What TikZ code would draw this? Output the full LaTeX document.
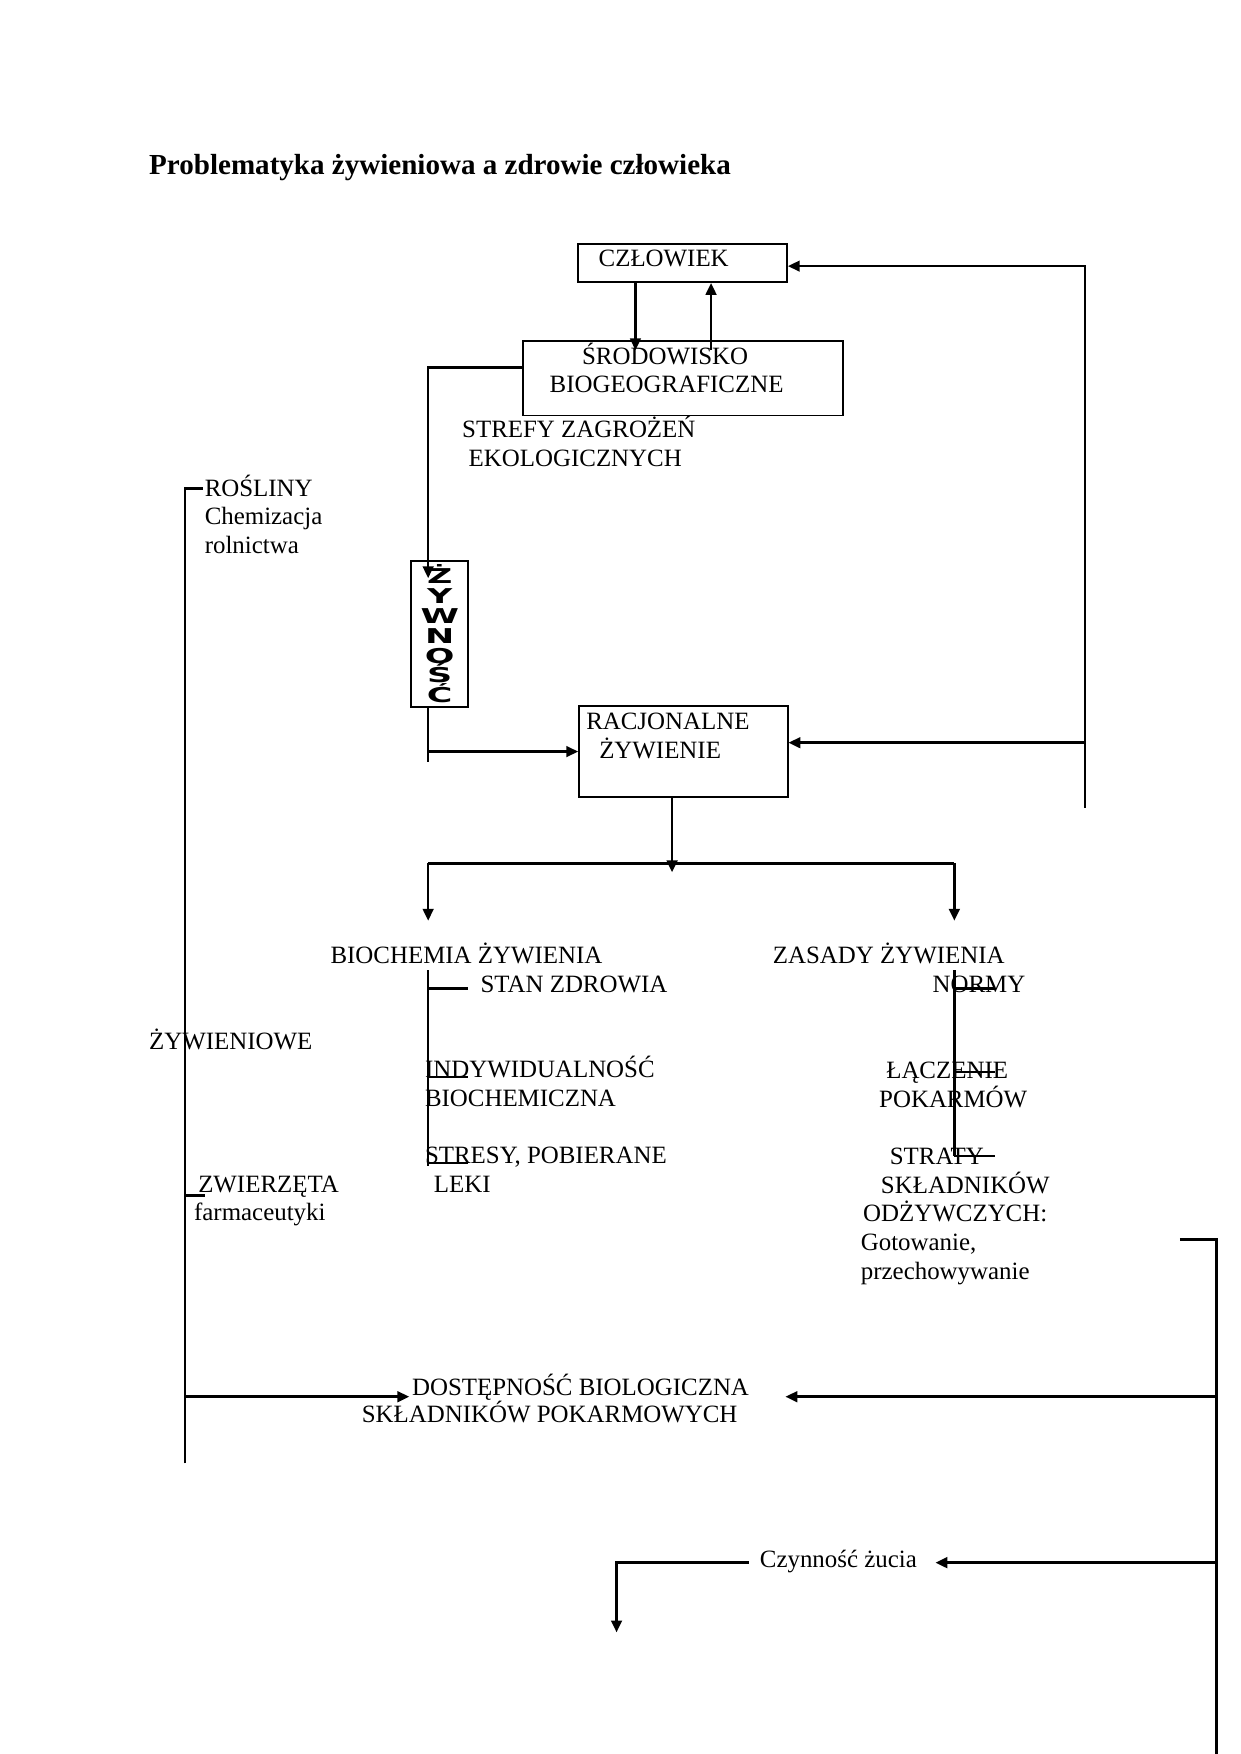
\documentclass[tikz,border=0pt]{standalone}
\usepackage{fontspec}
\usepackage{graphicx}
\setmainfont{Liberation Serif}
\newfontfamily\zywfont{DejaVu Sans}
\usepackage{tikz}
\usetikzlibrary{arrows.meta,positioning,calc}
\tikzset{
  >={Triangle[length=2mm,width=1.8mm]},
  % ramki
  ramka/.style={draw=black,line width=0.9pt,inner sep=0pt,anchor=north west},
  % napisy (kotwica na linii bazowej ostatniego wiersza)
  napis/.style={anchor=base west,inner sep=0pt,align=left,
                font=\fontsize{12}{13.8}\selectfont},
  tytul/.style={anchor=base west,inner sep=0pt,
                font=\fontsize{14}{16}\selectfont\bfseries},
  % linie
  lin/.style={draw=black,line width=1.2pt},
  strz/.style={->,draw=black,line width=1.2pt},
}

\begin{document}
\begin{tikzpicture}[x=1mm,y=1mm]
\useasboundingbox (0,0) rectangle (210,-297);
  \node[tytul] (tytul) at (25.2,-29.6) {Problematyka żywieniowa a zdrowie człowieka};

  % ramki
  \node[ramka,minimum width=35.4mm,minimum height=6.4mm] (czlowiek) at (97.7,-41.2) {};
  \node[ramka,minimum width=54.2mm,minimum height=12.6mm] (srodowisko) at (88.4,-57.6) {};
  \node[ramka,minimum width=35.3mm,minimum height=15.4mm] (racjonalne) at (97.9,-119.4) {};
  \node[ramka,minimum width=9.6mm,minimum height=24.7mm,
        font=\zywfont\bfseries\fontsize{12}{11.7}\selectfont] (zywnosc) at (69.5,-94.8)
    {\scalebox{1.4}[0.82]{\parbox{6mm}{\centering\lineskiplimit=-\maxdimen
       Ż\\Y\\W\\N\\O\\Ś\\Ć}}};

  % napisy
  \node[napis] (t-czlowiek) at (101.3,-45.2) {CZŁOWIEK};
  \node[napis] (t-srodowisko) at (93.0,-66.5) {\hspace*{5.5mm}ŚRODOWISKO\\BIOGEOGRAFICZNE};
  \node[napis] (strefy) at (78.2,-79.0) {STREFY ZAGROŻEŃ\\\hspace*{1.1mm}EKOLOGICZNYCH};
  \node[napis] (rosliny) at (34.6,-93.7) {ROŚLINY\\Chemizacja\\rolnictwa};
  \node[napis] (t-racjonalne) at (99.2,-128.4) {RACJONALNE\\\hspace*{2.2mm}ŻYWIENIE};
  \node[napis] (biochemia) at (55.9,-163.2) {BIOCHEMIA ŻYWIENIA};
  \node[napis] (stan) at (81.3,-168.0) {STAN ZDROWIA};
  \node[napis] (zasady) at (130.8,-163.1) {ZASADY ŻYWIENIA};
  \node[napis] (normy) at (157.85,-168.0) {NORMY};
  \node[napis] (zywieniowe) at (25.2,-177.7) {ŻYWIENIOWE};
  \node[napis] (indyw) at (71.9,-187.3) {INDYWIDUALNOŚĆ\\BIOCHEMICZNA};
  \node[napis] (stresy) at (71.9,-201.9) {STRESY, POBIERANE\\\hspace*{1.5mm}LEKI};
  \node[napis] (laczenie) at (148.8,-187.5) {\hspace*{1.2mm}ŁĄCZENIE\\POKARMÓW};
  \node[napis] (straty) at (145.7,-216.6) {\hspace*{4.9mm}STRATY\\\hspace*{3.4mm}SKŁADNIKÓW\\
    \hspace*{0.4mm}ODŻYWCZYCH:\\Gotowanie,\\przechowywanie};
  \node[napis] (zwierzeta) at (32.8,-206.7) {\hspace*{0.7mm}ZWIERZĘTA\\farmaceutyki};
  \node[napis] (dostepnosc) at (61.2,-240.8) {\hspace*{8.5mm}DOSTĘPNOŚĆ BIOLOGICZNA\\[-1pt]
    SKŁADNIKÓW POKARMOWYCH};
  \node[napis] (zucie) at (128.6,-265.4) {Czynność żucia};

  % człowiek <-> środowisko
  \coordinate (dol) at (107.6,-59.3);
  \coordinate (gora) at (120.4,-59.3);
  \draw[strz] (czlowiek.south -| dol) -- (dol);
  \draw[strz] (gora) -- (czlowiek.south -| gora);

  % pętla z prawej
  \coordinate (prawy) at (183.7,-136.8);
  \coordinate (czl-we) at ([yshift=-0.5mm]czlowiek.east);
  \coordinate (rac-we) at ([yshift=1.5mm]racjonalne.east);
  \draw[strz] (prawy) |- (czl-we);
  \draw[strz] (prawy |- rac-we) -- (rac-we);

  % środowisko -> żywność -> racjonalne żywienie
  \coordinate (zyw-we) at (72.5,-97.9);
  \coordinate (zyw-wy) at (72.5,-129.0);
  \draw[strz] ([yshift=1.8mm]srodowisko.west) -| (zyw-we);
  \draw[lin] (zywnosc.south -| zyw-wy) -- (zyw-wy);
  \draw[strz] (zyw-wy |- racjonalne.west) -- (racjonalne.west);

  % rozgałęzienie
  \coordinate (rozw) at (113.8,-147.7);
  \coordinate (poziom) at (113.8,-146.2);
  \coordinate (lewa) at (72.5,-155.9);
  \coordinate (prawa) at (161.6,-155.9);
  \draw[strz] (racjonalne.south -| rozw) -- (rozw);
  \draw[lin] (poziom -| lewa) -- (poziom -| prawa);
  \draw[strz] (poziom -| lewa) -- (lewa);
  \draw[strz] (poziom -| prawa) -- (prawa);

  % drzewka
  \coordinate (drzewo-l) at (72.5,-164.3);
  \draw[lin] (drzewo-l) -- ++(0,-33.1);
  \foreach \dy in {3.1,18.1,32.6}
    \draw[lin] (drzewo-l) ++(0,-\dy) -- ++(6.8,0);
  \coordinate (drzewo-p) at (161.6,-164.3);
  \draw[lin] (drzewo-p) -- ++(0,-31.4);
  \foreach \dy in {3.1,17.2,31.4}
    \draw[lin] (drzewo-p) ++(0,-\dy) -- ++(6.9,0);

  % linia z lewej
  \coordinate (lewy-g) at (31.35,-82.7);
  \coordinate (lewy-d) at (31.35,-247.8);
  \coordinate (dost-l) at (69.3,-236.5);
  \draw[lin] (lewy-d) -- (lewy-g) -- ++(3.1,0);
  \draw[lin] (lewy-g) ++(0,-119.7) -- ++(3.3,0);
  \draw[strz] (lewy-d |- dost-l) -- (dost-l);

  % linia z prawej, na dole
  \coordinate (prawy-g) at (199.8,-209.9);
  \coordinate (prawy-d) at (206.0,-297);
  \coordinate (dost-p) at (133.0,-236.5);
  \coordinate (zucie-p) at (158.4,-264.6);
  \coordinate (zucie-l) at (126.8,-264.6);
  \coordinate (zucie-d) at (104.4,-276.4);
  \draw[lin] (prawy-g) -| (prawy-d);
  \draw[strz] (prawy-d |- dost-p) -- (dost-p);
  \draw[strz] (prawy-d |- zucie-p) -- (zucie-p);
  \draw[strz] (zucie-l) -| (zucie-d);
\end{tikzpicture}
\end{document}
